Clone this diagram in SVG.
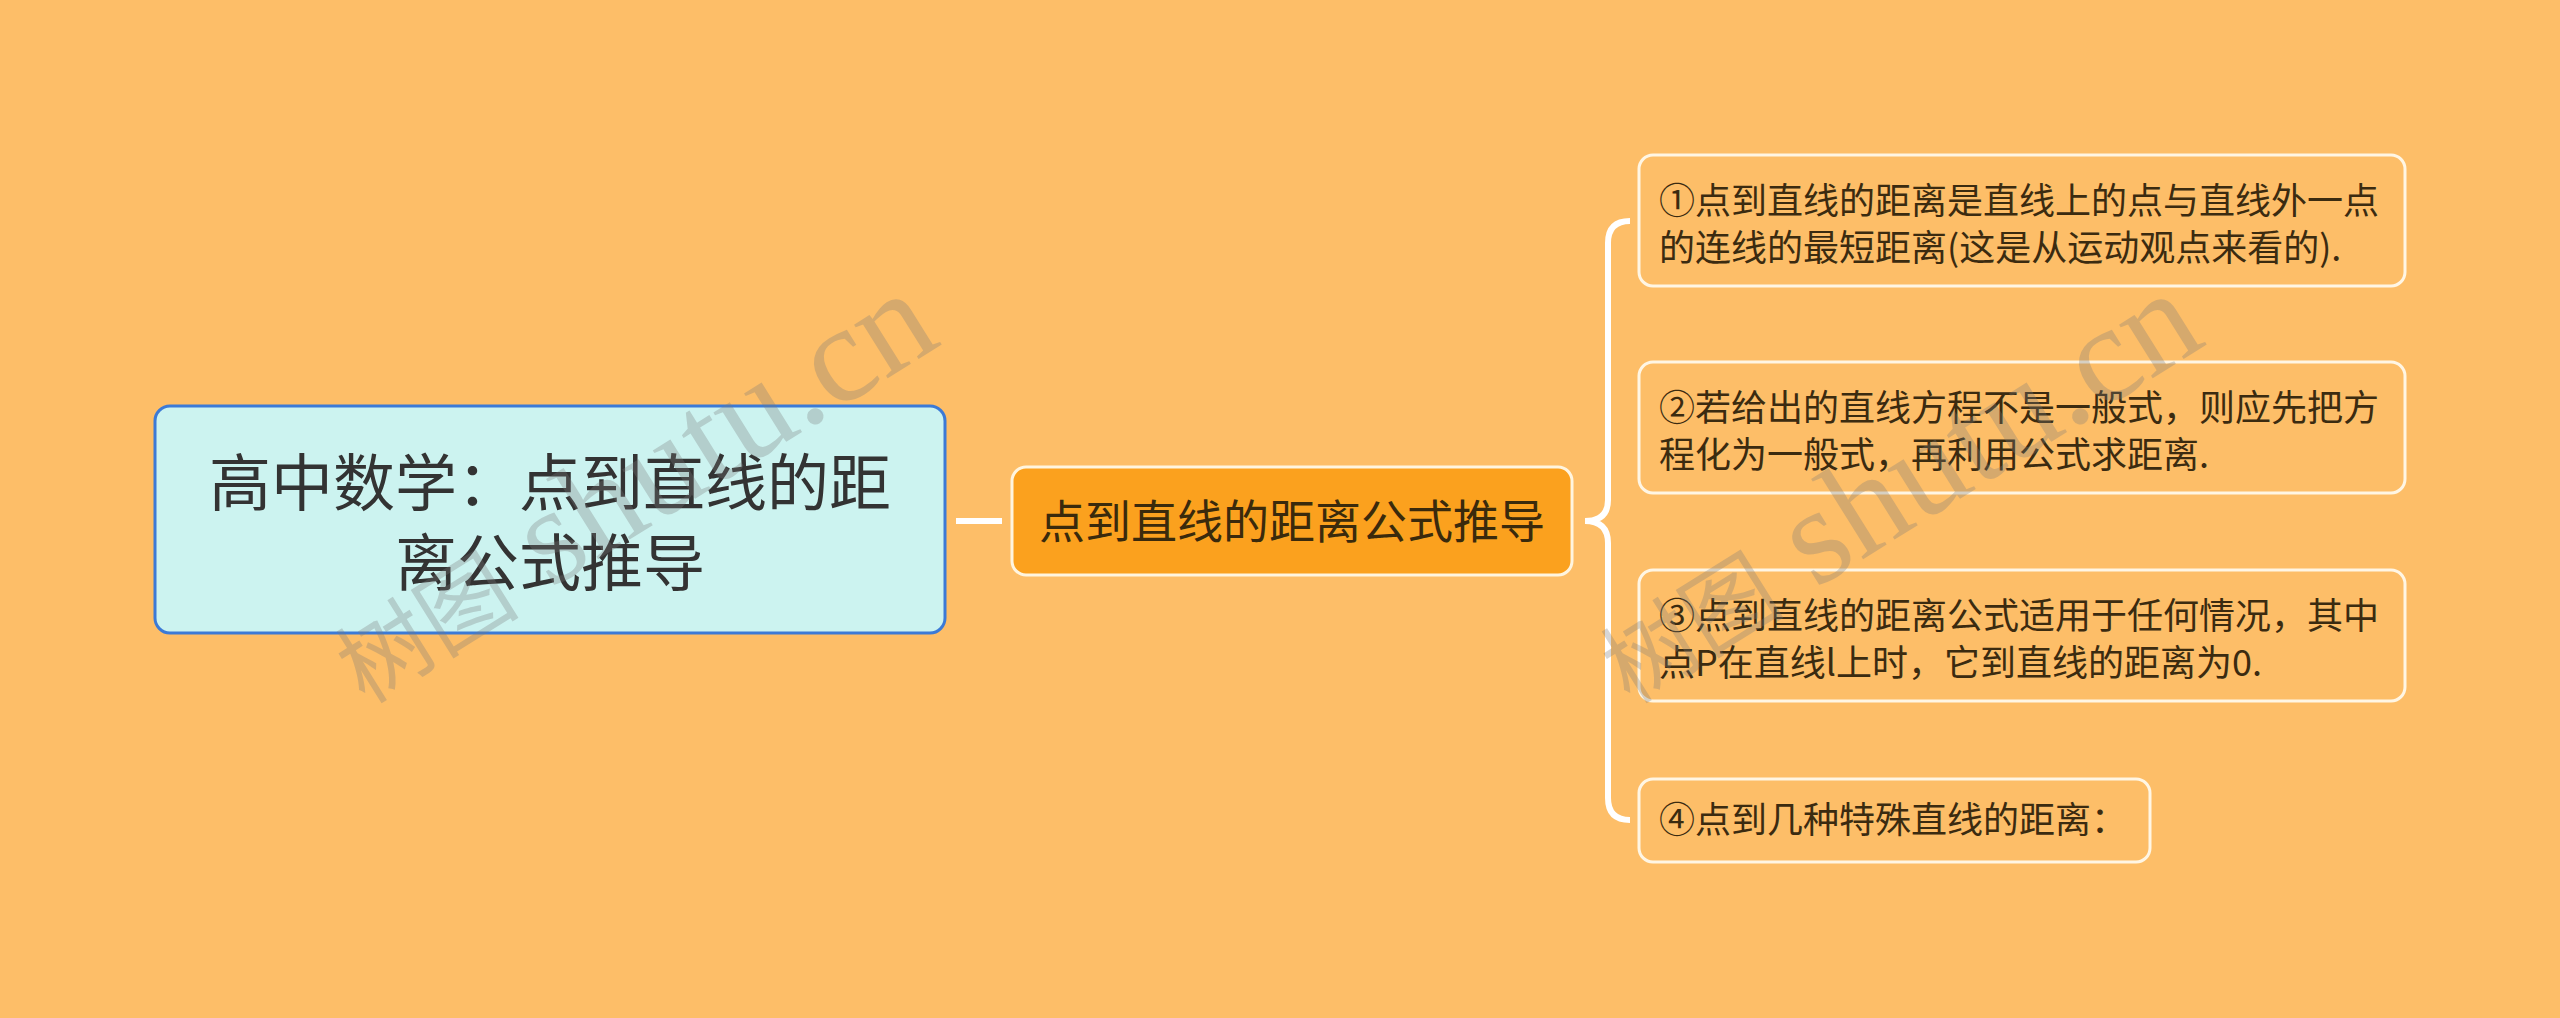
<svg xmlns="http://www.w3.org/2000/svg" width="2560" height="1018" viewBox="0 0 2560 1018">
<style>
.bg{fill:#fdbe68}
.root{fill:#ccf3f0;stroke:#3c7ad6;stroke-width:3}
.sub{fill:#fba11e;stroke:#fff5df;stroke-width:3}
.leaf{fill:#fdbe68;stroke:#fff6e4;stroke-width:3}
.conn{fill:none;stroke:#ffffff;stroke-width:6;stroke-linecap:butt}
.t{font-family:"Noto Sans CJK SC","Noto Sans",sans-serif}
.rt{font-size:62px;fill:#333333}
.st{font-size:46px;fill:#3a2a0c}
.lt{font-size:36px;fill:#3b2b10}
.wm{font-family:"Liberation Serif","Noto Sans CJK SC",serif;fill:#7a7a7a;opacity:0.3}
</style>
<rect class="bg" x="0" y="0" width="2560" height="1018"/>
<g id="connectors">
<line class="conn" x1="956" y1="521" x2="1002" y2="521"/>
<path class="conn" d="M1630,221 Q1608,221 1608,243 L1608,500 Q1608,521 1585,521 Q1608,521 1608,543 L1608,798 Q1608,820 1630,820"/>
</g>
<g id="root">
<rect class="root" x="155" y="406" width="790" height="227" rx="15"/>
<text class="t rt" x="550" y="506" text-anchor="middle">高中数学：点到直线的距</text>
<text class="t rt" x="550" y="586" text-anchor="middle">离公式推导</text>
</g>
<g id="sub">
<rect class="sub" x="1012" y="467" width="560" height="108" rx="14"/>
<text class="t st" x="1292" y="538" text-anchor="middle">点到直线的距离公式推导</text>
</g>
<g id="leaf1">
<rect class="leaf" x="1639" y="155" width="766" height="131" rx="14"/>
<text class="t lt" x="1659" y="214">①点到直线的距离是直线上的点与直线外一点</text>
<text class="t lt" x="1659" y="261">的连线的最短距离(这是从运动观点来看的).</text>
</g>
<g id="leaf2">
<rect class="leaf" x="1639" y="362" width="766" height="131" rx="14"/>
<text class="t lt" x="1659" y="421">②若给出的直线方程不是一般式，则应先把方</text>
<text class="t lt" x="1659" y="468">程化为一般式，再利用公式求距离.</text>
</g>
<g id="leaf3">
<rect class="leaf" x="1639" y="570" width="766" height="131" rx="14"/>
<text class="t lt" x="1659" y="629">③点到直线的距离公式适用于任何情况，其中</text>
<text class="t lt" x="1659" y="676">点P在直线l上时，它到直线的距离为0.</text>
</g>
<g id="leaf4">
<rect class="leaf" x="1639" y="779" width="511" height="83" rx="14"/>
<text class="t lt" x="1659" y="833">④点到几种特殊直线的距离：</text>
</g>
<g id="watermarks">
<text class="wm" transform="translate(365,705) rotate(-32)"><tspan font-size="92">树图</tspan><tspan font-size="138"> shutu.cn</tspan></text>
<text class="wm" transform="translate(1630,705) rotate(-32)"><tspan font-size="92">树图</tspan><tspan font-size="138"> shutu.cn</tspan></text>
</g>
</svg>
